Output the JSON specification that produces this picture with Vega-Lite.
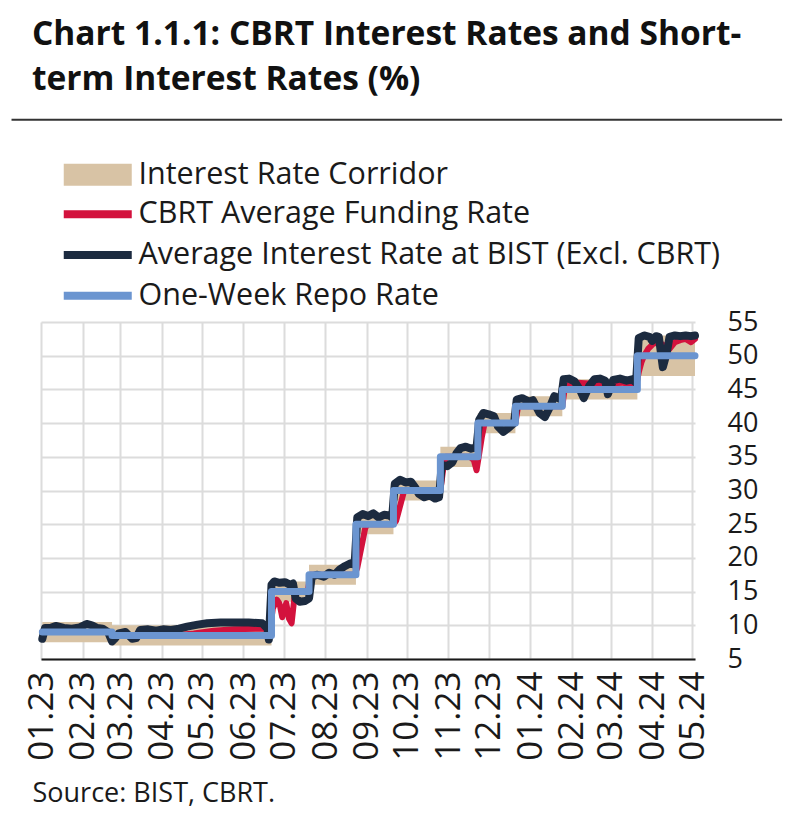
{
  "$schema": "https://vega.github.io/schema/vega-lite/v6.json",
  "autosize": {"type": "none"},
  "width": 654,
  "height": 337,
  "padding": {"left": 41, "top": 322, "right": 105, "bottom": 156},
  "background": "white",
  "config": {
    "font": "Open Sans",
    "view": {"stroke": null},
    "axis": {"labelFont": "Open Sans", "labelColor": "#1a1a1a", "gridColor": "#dcdcdc", "gridWidth": 2, "ticks": false}
  },
  "title": {
    "text": ["Chart 1.1.1: CBRT Interest Rates and Short-", "term Interest Rates (%)"],
    "anchor": "start",
    "frame": "group",
    "font": "Open Sans",
    "fontSize": 33.5,
    "fontWeight": "bold",
    "color": "#111111",
    "lineHeight": 45,
    "dx": -9,
    "offset": 21
  },
  "datasets": {
    "corridor": [
      {"date": "2023-01-02", "lo": 7.5, "hi": 10.5},
      {"date": "2023-02-23", "lo": 7, "hi": 10},
      {"date": "2023-06-22", "lo": 13.5, "hi": 16.5},
      {"date": "2023-07-20", "lo": 16, "hi": 19},
      {"date": "2023-08-24", "lo": 23.5, "hi": 26.5},
      {"date": "2023-09-21", "lo": 28.5, "hi": 31.5},
      {"date": "2023-10-26", "lo": 33.5, "hi": 36.5},
      {"date": "2023-11-23", "lo": 38.5, "hi": 41.5},
      {"date": "2023-12-21", "lo": 41, "hi": 44},
      {"date": "2024-01-25", "lo": 43.5, "hi": 46.5},
      {"date": "2024-03-21", "lo": 47, "hi": 53},
      {"date": "2024-05-03", "lo": 47, "hi": 53}
    ],
    "repo": [
      {"date": "2023-01-02", "rate": 9},
      {"date": "2023-02-23", "rate": 8.5},
      {"date": "2023-06-22", "rate": 15},
      {"date": "2023-07-20", "rate": 17.5},
      {"date": "2023-08-24", "rate": 25},
      {"date": "2023-09-21", "rate": 30},
      {"date": "2023-10-26", "rate": 35},
      {"date": "2023-11-23", "rate": 40},
      {"date": "2023-12-21", "rate": 42.5},
      {"date": "2024-01-25", "rate": 45},
      {"date": "2024-03-21", "rate": 50},
      {"date": "2024-05-03", "rate": 50}
    ],
    "funding": [
      {"date": "2023-01-02", "rate": 9.0},
      {"date": "2023-02-22", "rate": 9.0},
      {"date": "2023-02-23", "rate": 8.5},
      {"date": "2023-04-10", "rate": 8.5},
      {"date": "2023-04-25", "rate": 8.8},
      {"date": "2023-05-10", "rate": 9.2},
      {"date": "2023-05-25", "rate": 9.4},
      {"date": "2023-06-10", "rate": 9.5},
      {"date": "2023-06-21", "rate": 9.5},
      {"date": "2023-06-23", "rate": 12.5},
      {"date": "2023-06-26", "rate": 13.8},
      {"date": "2023-06-28", "rate": 13.2},
      {"date": "2023-06-30", "rate": 11.2},
      {"date": "2023-07-03", "rate": 13.3},
      {"date": "2023-07-05", "rate": 11.0},
      {"date": "2023-07-07", "rate": 10.3},
      {"date": "2023-07-09", "rate": 14.0},
      {"date": "2023-07-11", "rate": 15.0},
      {"date": "2023-07-19", "rate": 15.0},
      {"date": "2023-07-21", "rate": 17.5},
      {"date": "2023-08-23", "rate": 17.5},
      {"date": "2023-08-25", "rate": 18.5},
      {"date": "2023-08-27", "rate": 20.5},
      {"date": "2023-08-29", "rate": 22.5},
      {"date": "2023-08-31", "rate": 24.5},
      {"date": "2023-09-02", "rate": 25.0},
      {"date": "2023-09-21", "rate": 25.0},
      {"date": "2023-09-23", "rate": 25.5},
      {"date": "2023-09-25", "rate": 27.0},
      {"date": "2023-09-27", "rate": 28.5},
      {"date": "2023-09-29", "rate": 30.0},
      {"date": "2023-10-26", "rate": 30.0},
      {"date": "2023-10-28", "rate": 33.0},
      {"date": "2023-10-30", "rate": 35.0},
      {"date": "2023-11-17", "rate": 35.0},
      {"date": "2023-11-20", "rate": 34.5},
      {"date": "2023-11-22", "rate": 33.0},
      {"date": "2023-11-24", "rate": 35.5},
      {"date": "2023-11-26", "rate": 38.0},
      {"date": "2023-11-28", "rate": 40.0},
      {"date": "2023-12-21", "rate": 40.0},
      {"date": "2023-12-23", "rate": 42.5},
      {"date": "2024-01-25", "rate": 42.5},
      {"date": "2024-01-27", "rate": 45.5},
      {"date": "2024-02-05", "rate": 46.0},
      {"date": "2024-02-20", "rate": 45.8},
      {"date": "2024-03-10", "rate": 46.0},
      {"date": "2024-03-20", "rate": 45.5},
      {"date": "2024-03-22", "rate": 47.5},
      {"date": "2024-03-24", "rate": 49.0},
      {"date": "2024-03-26", "rate": 50.0},
      {"date": "2024-03-29", "rate": 51.0},
      {"date": "2024-04-02", "rate": 51.8},
      {"date": "2024-04-06", "rate": 52.0},
      {"date": "2024-04-10", "rate": 51.5},
      {"date": "2024-04-14", "rate": 51.0},
      {"date": "2024-04-18", "rate": 52.0},
      {"date": "2024-04-22", "rate": 52.3},
      {"date": "2024-04-26", "rate": 52.5},
      {"date": "2024-04-30", "rate": 52.0},
      {"date": "2024-05-03", "rate": 52.5}
    ],
    "bist": [
      {"date": "2023-01-02", "rate": 8.0},
      {"date": "2023-01-04", "rate": 9.6},
      {"date": "2023-01-08", "rate": 9.6},
      {"date": "2023-01-12", "rate": 9.9},
      {"date": "2023-01-18", "rate": 9.6},
      {"date": "2023-01-24", "rate": 9.5},
      {"date": "2023-01-30", "rate": 9.7},
      {"date": "2023-02-04", "rate": 10.2},
      {"date": "2023-02-08", "rate": 10.0},
      {"date": "2023-02-12", "rate": 9.6},
      {"date": "2023-02-16", "rate": 9.5},
      {"date": "2023-02-20", "rate": 9.0},
      {"date": "2023-02-23", "rate": 7.6},
      {"date": "2023-02-25", "rate": 8.0},
      {"date": "2023-02-28", "rate": 8.8},
      {"date": "2023-03-05", "rate": 9.0},
      {"date": "2023-03-10", "rate": 8.0},
      {"date": "2023-03-13", "rate": 8.1},
      {"date": "2023-03-16", "rate": 9.3},
      {"date": "2023-03-22", "rate": 9.4},
      {"date": "2023-03-28", "rate": 9.2},
      {"date": "2023-04-02", "rate": 9.4},
      {"date": "2023-04-08", "rate": 9.3},
      {"date": "2023-04-14", "rate": 9.5},
      {"date": "2023-04-20", "rate": 9.8},
      {"date": "2023-04-28", "rate": 10.1},
      {"date": "2023-05-05", "rate": 10.3},
      {"date": "2023-05-15", "rate": 10.4},
      {"date": "2023-05-25", "rate": 10.4},
      {"date": "2023-06-05", "rate": 10.4},
      {"date": "2023-06-15", "rate": 10.3},
      {"date": "2023-06-19", "rate": 9.5},
      {"date": "2023-06-20", "rate": 7.9},
      {"date": "2023-06-22", "rate": 16.0},
      {"date": "2023-06-24", "rate": 16.5},
      {"date": "2023-06-28", "rate": 16.3},
      {"date": "2023-07-02", "rate": 16.4},
      {"date": "2023-07-06", "rate": 16.0},
      {"date": "2023-07-08", "rate": 16.2},
      {"date": "2023-07-10", "rate": 14.0},
      {"date": "2023-07-13", "rate": 13.5},
      {"date": "2023-07-17", "rate": 13.6},
      {"date": "2023-07-20", "rate": 14.0},
      {"date": "2023-07-22", "rate": 17.2},
      {"date": "2023-07-26", "rate": 17.5},
      {"date": "2023-07-31", "rate": 17.2},
      {"date": "2023-08-04", "rate": 17.8},
      {"date": "2023-08-08", "rate": 17.5},
      {"date": "2023-08-12", "rate": 18.3},
      {"date": "2023-08-16", "rate": 18.8},
      {"date": "2023-08-20", "rate": 19.2},
      {"date": "2023-08-23", "rate": 19.0},
      {"date": "2023-08-25", "rate": 26.0},
      {"date": "2023-08-29", "rate": 26.5},
      {"date": "2023-09-02", "rate": 26.2},
      {"date": "2023-09-06", "rate": 26.6},
      {"date": "2023-09-10", "rate": 26.0},
      {"date": "2023-09-14", "rate": 26.4},
      {"date": "2023-09-18", "rate": 26.3},
      {"date": "2023-09-20", "rate": 26.0},
      {"date": "2023-09-22", "rate": 31.0},
      {"date": "2023-09-26", "rate": 31.6},
      {"date": "2023-09-30", "rate": 31.2},
      {"date": "2023-10-04", "rate": 31.3},
      {"date": "2023-10-07", "rate": 30.5},
      {"date": "2023-10-10", "rate": 29.5},
      {"date": "2023-10-14", "rate": 29.0},
      {"date": "2023-10-18", "rate": 29.3},
      {"date": "2023-10-22", "rate": 28.8},
      {"date": "2023-10-25", "rate": 29.0},
      {"date": "2023-10-27", "rate": 33.8},
      {"date": "2023-10-31", "rate": 33.6},
      {"date": "2023-11-04", "rate": 34.2},
      {"date": "2023-11-07", "rate": 35.5},
      {"date": "2023-11-10", "rate": 36.3},
      {"date": "2023-11-14", "rate": 36.5},
      {"date": "2023-11-18", "rate": 36.2},
      {"date": "2023-11-22", "rate": 36.4},
      {"date": "2023-11-24", "rate": 40.5},
      {"date": "2023-11-27", "rate": 41.5},
      {"date": "2023-12-01", "rate": 41.3},
      {"date": "2023-12-05", "rate": 41.0},
      {"date": "2023-12-08", "rate": 39.5},
      {"date": "2023-12-12", "rate": 38.7},
      {"date": "2023-12-16", "rate": 39.3},
      {"date": "2023-12-20", "rate": 40.0},
      {"date": "2023-12-22", "rate": 43.5},
      {"date": "2023-12-26", "rate": 43.7},
      {"date": "2023-12-31", "rate": 43.2},
      {"date": "2024-01-03", "rate": 43.4},
      {"date": "2024-01-08", "rate": 41.5},
      {"date": "2024-01-12", "rate": 40.9},
      {"date": "2024-01-16", "rate": 42.5},
      {"date": "2024-01-19", "rate": 44.0},
      {"date": "2024-01-24", "rate": 43.5},
      {"date": "2024-01-26", "rate": 46.5},
      {"date": "2024-01-30", "rate": 46.6},
      {"date": "2024-02-03", "rate": 46.2},
      {"date": "2024-02-07", "rate": 45.0},
      {"date": "2024-02-10", "rate": 43.7},
      {"date": "2024-02-14", "rate": 45.5},
      {"date": "2024-02-18", "rate": 46.5},
      {"date": "2024-02-22", "rate": 46.6},
      {"date": "2024-02-26", "rate": 46.3},
      {"date": "2024-02-28", "rate": 44.3},
      {"date": "2024-03-03", "rate": 46.4},
      {"date": "2024-03-08", "rate": 46.6},
      {"date": "2024-03-13", "rate": 46.3},
      {"date": "2024-03-17", "rate": 46.5},
      {"date": "2024-03-20", "rate": 46.0},
      {"date": "2024-03-22", "rate": 52.6},
      {"date": "2024-03-26", "rate": 53.0},
      {"date": "2024-03-30", "rate": 52.8},
      {"date": "2024-04-01", "rate": 52.2},
      {"date": "2024-04-04", "rate": 52.9},
      {"date": "2024-04-06", "rate": 52.8},
      {"date": "2024-04-09", "rate": 48.3},
      {"date": "2024-04-12", "rate": 50.5},
      {"date": "2024-04-14", "rate": 52.8},
      {"date": "2024-04-18", "rate": 53.0},
      {"date": "2024-04-22", "rate": 52.9},
      {"date": "2024-04-26", "rate": 53.0},
      {"date": "2024-04-30", "rate": 52.9},
      {"date": "2024-05-03", "rate": 53.0}
    ]
  },
  "layer": [
    {
      "data": {"name": "corridor"},
      "mark": {"type": "area", "interpolate": "step-after"},
      "encoding": {
        "x": {
          "field": "date", "type": "temporal",
          "scale": {"domain": [{"year": 2023, "month": 1, "date": 1}, {"year": 2024, "month": 5, "date": 3}]},
          "axis": {
            "orient": "bottom",
            "tickCount": {"interval": "month", "step": 1},
            "format": "%m.%y",
            "labelAngle": -90,
            "labelFontSize": 35,
            "labelPadding": 12,
            "labelFlush": false,
            "labelOverlap": false,
            "domain": true,
            "domainColor": "#1a1a1a",
            "domainWidth": 2,
            "grid": true,
            "title": "Source: BIST, CBRT.",
            "titleFont": "Open Sans",
            "titleFontSize": 27,
            "titleFontWeight": "normal",
            "titleColor": "#1a1a1a",
            "titleAnchor": "start",
            "titleAlign": "left",
            "titleBaseline": "alphabetic",
            "titleX": -9,
            "titleY": 142
          }
        },
        "y": {
          "field": "lo", "type": "quantitative",
          "scale": {"domain": [5, 55], "nice": false, "zero": false},
          "axis": {
            "orient": "right",
            "tickCount": 10,
            "labelFontSize": 27,
            "labelPadding": 32,
            "labelAlign": "left",
            "labelBaseline": "middle",
            "labelOverlap": false,
            "labelFlush": false,
            "domain": false,
            "grid": true,
            "title": null
          }
        },
        "y2": {"field": "hi"},
        "fill": {
          "datum": "Interest Rate Corridor",
          "scale": {"domain": ["Interest Rate Corridor"], "range": ["#d8c3a5"]},
          "legend": {
            "orient": "none",
            "legendX": 41.5,
            "legendY": -162.5,
            "title": null,
            "padding": 0,
            "symbolType": "M-4,-1.3H4V1.3H-4Z",
            "symbolSize": 289,
            "symbolStrokeWidth": 0,
            "symbolOpacity": 1,
            "labelFont": "Open Sans",
            "labelFontSize": 30.5,
            "labelColor": "#1a1a1a",
            "labelOffset": 25.5,
            "labelLimit": 1000
          }
        }
      }
    },
    {
      "data": {"name": "funding"},
      "mark": {"type": "line", "strokeWidth": 6, "strokeCap": "round", "strokeJoin": "round"},
      "encoding": {
        "x": {"field": "date", "type": "temporal"},
        "y": {"field": "rate", "type": "quantitative"},
        "stroke": {
          "datum": "CBRT Average Funding Rate",
          "scale": {
            "domain": ["CBRT Average Funding Rate", "Average Interest Rate at BIST (Excl. CBRT)", "One-Week Repo Rate"],
            "range": ["#d3123d", "#1c2b40", "#6b95d0"]
          },
          "legend": {
            "orient": "none",
            "legendX": 41.5,
            "legendY": -123,
            "title": null,
            "padding": 0,
            "rowPadding": 7.7,
            "symbolType": "M-4,0H4",
            "symbolSize": 289,
            "symbolStrokeWidth": 8,
            "symbolOpacity": 1,
            "labelFont": "Open Sans",
            "labelFontSize": 30.5,
            "labelColor": "#1a1a1a",
            "labelOffset": 25.5,
            "labelLimit": 1000
          }
        }
      }
    },
    {
      "data": {"name": "bist"},
      "mark": {"type": "line", "strokeWidth": 8, "strokeCap": "round", "strokeJoin": "round"},
      "encoding": {
        "x": {"field": "date", "type": "temporal"},
        "y": {"field": "rate", "type": "quantitative"},
        "stroke": {"datum": "Average Interest Rate at BIST (Excl. CBRT)"}
      }
    },
    {
      "data": {"name": "repo"},
      "mark": {"type": "line", "interpolate": "step-after", "strokeWidth": 7, "strokeCap": "round", "strokeJoin": "round"},
      "encoding": {
        "x": {"field": "date", "type": "temporal"},
        "y": {"field": "rate", "type": "quantitative"},
        "stroke": {"datum": "One-Week Repo Rate"}
      }
    },
    {
      "data": {"values": [{}]},
      "mark": {"type": "rule", "color": "#333333", "strokeWidth": 2},
      "encoding": {
        "x": {"datum": {"year": 2022, "month": 12, "date": 10}, "type": "temporal"},
        "x2": {"datum": {"year": 2024, "month": 7, "date": 7}},
        "y": {"datum": 85, "type": "quantitative"}
      }
    }
  ]
}
